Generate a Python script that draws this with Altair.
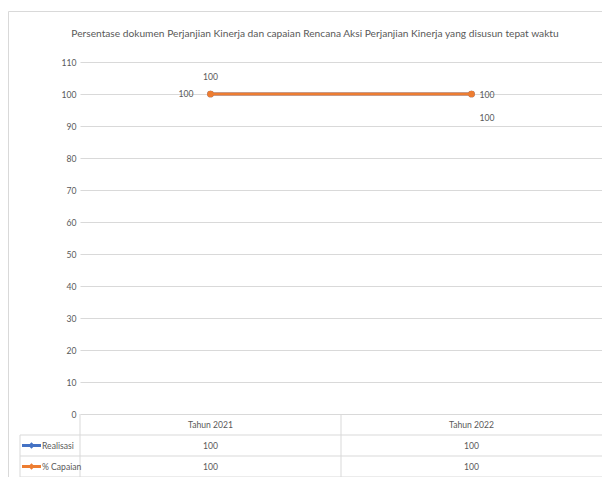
import altair as alt
import pandas as pd

title_text = "Persentase dokumen Perjanjian Kinerja dan capaian Rencana Aksi Perjanjian Kinerja yang disusun tepat waktu"
years = ["Tahun 2021", "Tahun 2022"]
series = ["Realisasi", "% Capaian"]
realisasi = [100, 100]
capaian = [100, 100]
y_ticks = [0, 10, 20, 30, 40, 50, 60, 70, 80, 90, 100, 110]
colors = ["#4472C4", "#ED7D31"]

rows = []
for s, vals in zip(series, [realisasi, capaian]):
    for yr, v in zip(years, vals):
        rows.append({"series": s, "year": yr, "value": v})
df = pd.DataFrame(rows)
sdf = pd.DataFrame({"series": series})

W, H = 522, 352
RH = 21
FONT = "Lato"
GRID = "#D9D9D9"
TXT = "#595959"
FS = 8.6

xs = alt.Scale(domain=years, paddingInner=0, paddingOuter=0)
ys = alt.Scale(domain=[0, 110], nice=False)
cs = alt.Scale(domain=series, range=colors)

x = alt.X("year:N", scale=xs, axis=None)
y = alt.Y("value:Q", scale=ys,
          axis=alt.Axis(values=y_ticks, title=None, domain=False, ticks=False,
                        labelPadding=4, gridColor=GRID, labelColor=TXT,
                        labelFont=FONT, labelFontSize=FS))
color = alt.Color("series:N", scale=cs, legend=None)

base = alt.Chart(df)

def series_layer(name):
    b = base.transform_filter(alt.datum.series == name)
    ln = b.mark_line(strokeWidth=3).encode(x=x, y=y, color=color)
    pt = b.mark_point(filled=True, shape="circle", size=45, opacity=1).encode(x=x, y=y, color=color)
    return ln + pt

lines = series_layer("Realisasi") + series_layer("% Capaian")

def dlabel(name, year, dx, dy, align):
    return base.transform_filter(
        (alt.datum.series == name) & (alt.datum.year == year)
    ).mark_text(font=FONT, fontSize=FS, color=TXT, dx=dx, dy=dy, align=align).encode(
        x=x, y=y, text="value:Q")

labels = (dlabel("Realisasi", years[0], 0, -17, "center")
          + dlabel("% Capaian", years[0], -17, 0, "right")
          + dlabel("Realisasi", years[1], 8, 1, "left")
          + dlabel("% Capaian", years[1], 8, 24, "left"))

# data table below the plot
tcol = alt.Chart(pd.DataFrame({"year": years}))
hdr = tcol.mark_text(font=FONT, fontSize=FS, color=TXT, baseline="middle").encode(
    x=x, y=alt.value(H + RH / 2), text="year:N")
vlines = tcol.mark_rule(color=GRID, strokeWidth=1).encode(
    x=alt.X("year:N", scale=xs, axis=None, bandPosition=0),
    y=alt.value(H), y2=alt.value(H + 3 * RH))

def row_vals(name, i):
    return base.transform_filter(alt.datum.series == name).mark_text(
        font=FONT, fontSize=FS, color=TXT, baseline="middle").encode(
        x=x, y=alt.value(H + RH * (i + 1.5)), text="value:Q")

rowtexts = row_vals("Realisasi", 0) + row_vals("% Capaian", 1)

one = alt.Chart(pd.DataFrame({"k": [1]}))
hl = one.mark_rule(color=GRID, strokeWidth=1)
hlines = (hl.encode(x=alt.value(-60), x2=alt.value(W), y=alt.value(H + RH))
          + hl.encode(x=alt.value(-60), x2=alt.value(W), y=alt.value(H + 2 * RH))
          + hl.encode(x=alt.value(-60), x2=alt.value(W), y=alt.value(H + 3 * RH))
          + hl.encode(x=alt.value(-60), y=alt.value(H + RH), y2=alt.value(H + 3 * RH)))

border = (hl.encode(x=alt.value(-71.5), y=alt.value(-50.5), y2=alt.value(H + 80))
          + hl.encode(x=alt.value(-71.5), x2=alt.value(W + 10), y=alt.value(-50.5)))

title = one.mark_text(font=FONT, fontSize=10.2, color=TXT, align="center", baseline="middle").encode(
    x=alt.value(W / 2 - 26), y=alt.value(-28), text=alt.value(title_text))

sc = alt.Chart(sdf)
def key(name, i):
    b = sc.transform_filter(alt.datum.series == name)
    yy = H + RH * (i + 1.5)
    r = b.mark_rule(strokeWidth=3).encode(x=alt.value(-58), x2=alt.value(-39), y=alt.value(yy),
                                         color=alt.Color("series:N", scale=cs, legend=None))
    p = b.mark_point(filled=True, shape="diamond", size=40, opacity=1).encode(
        x=alt.value(-48.5), y=alt.value(yy), color=alt.Color("series:N", scale=cs, legend=None))
    t = b.mark_text(font=FONT, fontSize=FS, color=TXT, align="left", baseline="middle").encode(
        x=alt.value(-38), y=alt.value(yy), text="series:N")
    return r + p + t

keys = key("Realisasi", 0) + key("% Capaian", 1)

chart = alt.layer(border, title, vlines, hlines, lines, labels, hdr, rowtexts, keys).properties(
    width=W, height=H,
    padding={"left": 72, "top": 54, "right": 0, "bottom": 63},
    autosize=alt.AutoSizeParams(type="none"),
).configure_view(stroke=None)

chart.save("out.html", embed_options={"renderer": "svg", "actions": False})
